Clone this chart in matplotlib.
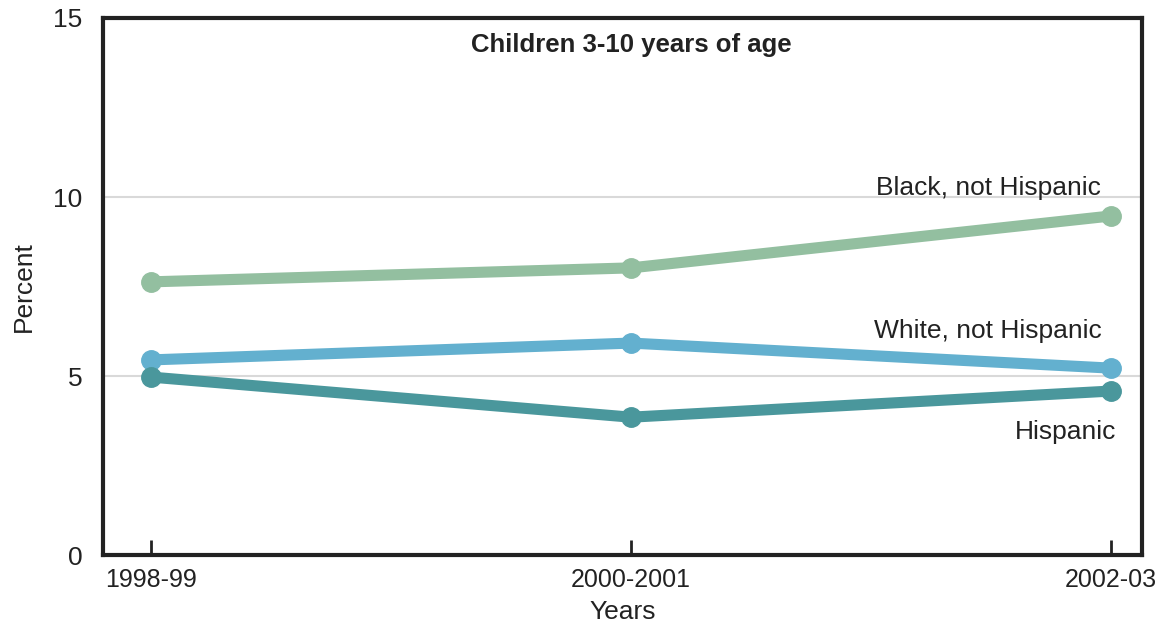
import matplotlib
matplotlib.use("Agg")
import matplotlib.pyplot as plt

years = ["1998-99", "2000-2001", "2002-03"]
black = [7.63, 8.02, 9.47]
white = [5.45, 5.92, 5.22]
hispanic = [4.97, 3.85, 4.58]
yticks = [0, 5, 10, 15]

plt.rcParams['font.family'] = ['Liberation Sans', 'DejaVu Sans']

fig = plt.figure(figsize=(11.65, 6.29), dpi=100)
ax = fig.add_axes([0.0884, 0.1176, 0.892, 0.8538])

x = list(range(len(years)))
series = [(black, "#93BFA0", "Black, not Hispanic"),
          (white, "#63B0CF", "White, not Hispanic"),
          (hispanic, "#4A979C", "Hispanic")]
for vals, col, name in series:
    ax.plot(x, vals, color=col, lw=8, marker="o", ms=14, solid_capstyle="round", zorder=3)

ax.set_xlim(-0.1, 2.065)
ax.set_ylim(0, 15)
ax.set_yticks(yticks)
ax.set_xticks(x)
ax.set_xticklabels(years, fontsize=18)
ax.tick_params(axis='x', direction='in', length=11, width=2, pad=9, colors='#222222')
ax.tick_params(axis='y', length=0, pad=15, labelsize=19, colors='#222222')
ax.grid(axis='y', color='#d9d9d9', lw=1.5, zorder=0)
ax.set_axisbelow(True)
for s in ax.spines.values():
    s.set_linewidth(3)
    s.set_color('#222222')

ax.set_xlabel("Years", fontsize=19, color='#222222', labelpad=6)
ax.set_ylabel("Percent", fontsize=19, color='#222222', labelpad=12)

ax.text(1.0, 14.25, "Children 3-10 years of age", ha='center', va='center',
        fontsize=18.5, fontweight='bold', color='#222222')
ax.text(1.98, 10.25, "Black, not Hispanic", ha='right', va='center', fontsize=19, color='#222222')
ax.text(1.98, 6.26, "White, not Hispanic", ha='right', va='center', fontsize=19, color='#222222')
ax.text(2.01, 3.44, "Hispanic", ha='right', va='center', fontsize=19, color='#222222')

fig.savefig("out.png", dpi=100)
